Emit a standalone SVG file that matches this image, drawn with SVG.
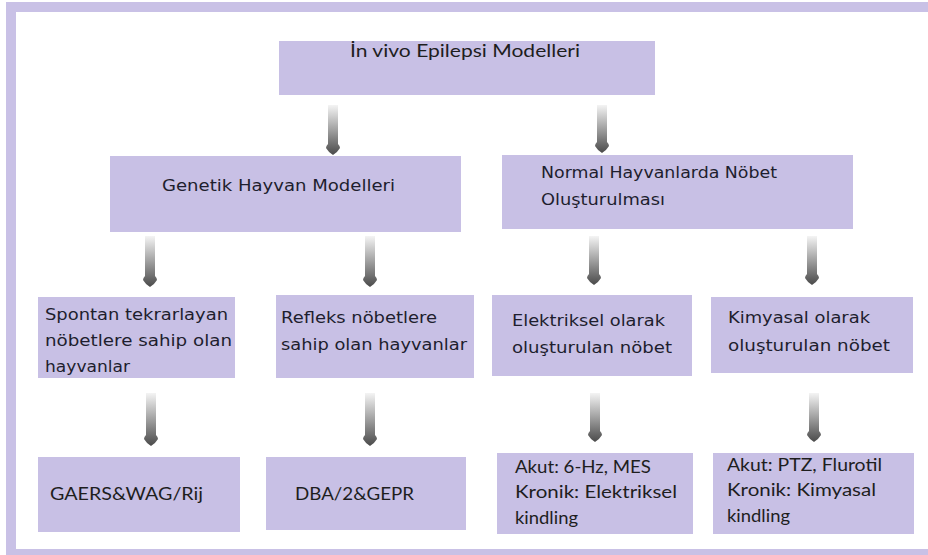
<svg xmlns="http://www.w3.org/2000/svg" width="928" height="555" viewBox="0 0 928 555">
<defs>
<linearGradient id="ag" x1="0" y1="0" x2="0" y2="1">
<stop offset="0" stop-color="#f4f4f4"/>
<stop offset="0.5" stop-color="#a0a0a0"/>
<stop offset="1" stop-color="#4a4a4a"/>
</linearGradient>
</defs>
<style>
.box{fill:#c8c0e5;}
.v{font-family:"DejaVu Sans",Verdana,sans-serif;font-size:16px;fill:#1e1e2e;}
.c{font-family:Lato,"Liberation Sans",sans-serif;font-size:18px;fill:#1e1e1e;}
.a{fill:url(#ag);}
</style>
<rect x="0" y="0" width="928" height="555" fill="#ffffff"/>
<rect x="11" y="7" width="930" height="547" fill="none" stroke="#c9c1e6" stroke-width="10"/>

<g id="connectors">
<path class="a" d="M328,105 L338,105 L338,144 Q340,146 340,148 Q337,153 333,155 Q329,153 326,148 Q326,146 328,144 Z"/>
<path class="a" d="M597,105 L607,105 L607,142 Q609,144 609,146 Q606,151 602,153 Q598,151 595,146 Q595,144 597,142 Z"/>
<path class="a" d="M145,236 L155,236 L155,276 Q157,278 157,280 Q154,285 150,287 Q146,285 143,280 Q143,278 145,276 Z"/>
<path class="a" d="M365,236 L375,236 L375,276 Q377,278 377,280 Q374,285 370,287 Q366,285 363,280 Q363,278 365,276 Z"/>
<path class="a" d="M589,236 L599,236 L599,274 Q601,276 601,278 Q598,283 594,285 Q590,283 587,278 Q587,276 589,274 Z"/>
<path class="a" d="M807,236 L817,236 L817,274 Q819,276 819,278 Q816,283 812,285 Q808,283 805,278 Q805,276 807,274 Z"/>
<path class="a" d="M146,393 L156,393 L156,435 Q158,437 158,439 Q155,444 151,446 Q147,444 144,439 Q144,437 146,435 Z"/>
<path class="a" d="M365,393 L375,393 L375,435 Q377,437 377,439 Q374,444 370,446 Q366,444 363,439 Q363,437 365,435 Z"/>
<path class="a" d="M590,393 L600,393 L600,431 Q602,433 602,435 Q599,440 595,442 Q591,440 588,435 Q588,433 590,431 Z"/>
<path class="a" d="M809,393 L819,393 L819,431 Q821,433 821,435 Q818,440 814,442 Q810,440 807,435 Q807,433 809,431 Z"/>
</g>

<g id="n-root">
<rect class="box" x="279" y="41" width="376" height="54"/>
<text class="c" x="350" y="57" textLength="230" lengthAdjust="spacingAndGlyphs">İn vivo Epilepsi Modelleri</text>
</g>

<g id="n-genetik">
<rect class="box" x="110" y="156" width="351" height="76"/>
<text class="v" x="162" y="191" textLength="233" lengthAdjust="spacingAndGlyphs">Genetik Hayvan Modelleri</text>
</g>

<g id="n-normal">
<rect class="box" x="502" y="155" width="351" height="74"/>
<text class="v" x="541" y="178" textLength="236" lengthAdjust="spacingAndGlyphs">Normal Hayvanlarda Nöbet</text>
<text class="v" x="541" y="205" textLength="124" lengthAdjust="spacingAndGlyphs">Oluşturulması</text>
</g>

<g id="n-spontan">
<rect class="box" x="38" y="297" width="197" height="81"/>
<text class="v" x="45" y="320" textLength="183" lengthAdjust="spacingAndGlyphs">Spontan tekrarlayan</text>
<text class="v" x="45" y="346" textLength="187" lengthAdjust="spacingAndGlyphs">nöbetlere sahip olan</text>
<text class="v" x="45" y="372" textLength="85" lengthAdjust="spacingAndGlyphs">hayvanlar</text>
</g>

<g id="n-refleks">
<rect class="box" x="276" y="295" width="198" height="83"/>
<text class="v" x="281" y="323" textLength="156" lengthAdjust="spacingAndGlyphs">Refleks nöbetlere</text>
<text class="v" x="281" y="350" textLength="186" lengthAdjust="spacingAndGlyphs">sahip olan hayvanlar</text>
</g>

<g id="n-elektrik">
<rect class="box" x="492" y="295" width="200" height="81"/>
<text class="v" x="512" y="326" textLength="153" lengthAdjust="spacingAndGlyphs">Elektriksel olarak</text>
<text class="v" x="512" y="353" textLength="160" lengthAdjust="spacingAndGlyphs">oluşturulan nöbet</text>
</g>

<g id="n-kimya">
<rect class="box" x="711" y="297" width="202" height="76"/>
<text class="v" x="728" y="323" textLength="142" lengthAdjust="spacingAndGlyphs">Kimyasal olarak</text>
<text class="v" x="728" y="351" textLength="162" lengthAdjust="spacingAndGlyphs">oluşturulan nöbet</text>
</g>

<g id="n-gaers">
<rect class="box" x="38" y="457" width="202" height="75"/>
<text class="c" x="50" y="500" textLength="153" lengthAdjust="spacingAndGlyphs">GAERS&amp;WAG/Rij</text>
</g>

<g id="n-dba">
<rect class="box" x="266" y="457" width="200" height="73"/>
<text class="c" x="295" y="500" textLength="119" lengthAdjust="spacingAndGlyphs">DBA/2&amp;GEPR</text>
</g>

<g id="n-akut1">
<rect class="box" x="497" y="453" width="196" height="81"/>
<text class="c" x="515" y="473" textLength="136" lengthAdjust="spacingAndGlyphs">Akut: 6-Hz, MES</text>
<text class="c" x="515" y="498" textLength="162" lengthAdjust="spacingAndGlyphs">Kronik: Elektriksel</text>
<text class="c" x="515" y="524" textLength="63" lengthAdjust="spacingAndGlyphs">kindling</text>
</g>

<g id="n-akut2">
<rect class="box" x="713" y="453" width="201" height="81"/>
<text class="c" x="727" y="471" textLength="155" lengthAdjust="spacingAndGlyphs">Akut: PTZ, Flurotil</text>
<text class="c" x="727" y="496" textLength="149" lengthAdjust="spacingAndGlyphs">Kronik: Kimyasal</text>
<text class="c" x="727" y="522" textLength="63" lengthAdjust="spacingAndGlyphs">kindling</text>
</g>
</svg>
